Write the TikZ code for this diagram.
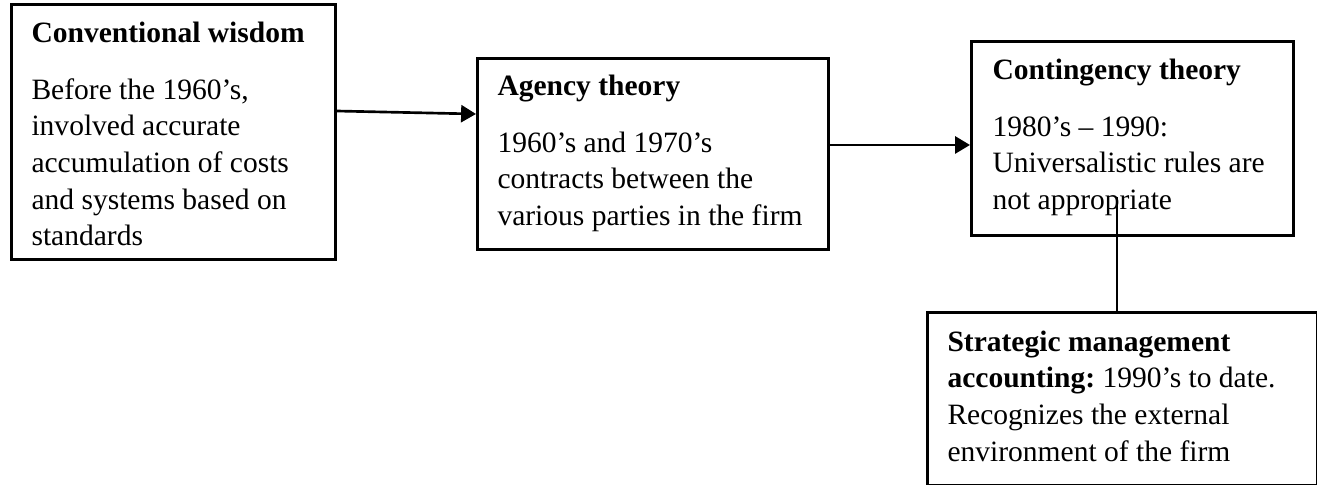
\documentclass[tikz,border=0pt]{standalone}
\usepackage{fontspec}
\setmainfont{Liberation Serif}
\usetikzlibrary{arrows.meta,positioning,calc}
\frenchspacing

\begin{document}
\begin{tikzpicture}[
    x=0.376pt, y=-0.376pt,
    box/.style={rectangle, draw=black, line width=1pt, anchor=north west, inner sep=0pt},
    txt/.style={anchor=north west, align=left, inner sep=0pt, font=\fontsize{11.1}{13.8}\selectfont},
    arrow/.style={-{Triangle[length=5.6pt,width=6.4pt]}, line width=1pt},
    link/.style={line width=1pt}
]
\useasboundingbox (0,0) rectangle (1317,485);

% Boxes
\node [box, minimum width=324*0.376pt, minimum height=255*0.376pt] (conv) at (10,3) {};
\node [box, minimum width=351*0.376pt, minimum height=191*0.376pt] (agency) at (476,57) {};
\node [box, minimum width=322*0.376pt, minimum height=194*0.376pt] (contin) at (970,40) {};
\node [box, minimum width=390*0.376pt, minimum height=173*0.376pt] (strat) at (926,311) {};

% Texts
\node [txt] (convtxt) at ($(conv.north west)+(21,18)$) {\textbf{Conventional wisdom}\\[7.7pt]
    Before the 1960's,\\ involved accurate\\ accumulation of costs\\ and systems based on\\ standards};
\node [txt] (agencytxt) at ($(agency.north west)+(21,17)$) {\textbf{Agency theory}\\[7.7pt]
    1960's and 1970's\\ contracts between the\\ various parties in the firm};
\node [txt] (contintxt) at ($(contin.north west)+(22,18)$) {\textbf{Contingency theory}\\[7.7pt]
    1980's -- 1990:\\ Universalistic rules are\\ not appropriate};
\node [txt] (strattxt) at ($(strat.north west)+(21,19)$) {\textbf{Strategic management}\\
    \textbf{accounting:} 1990's to date.\\ Recognizes the external\\ environment of the firm};

% Connectors
\draw [arrow] ($(conv.north east)+(0,108)$) -- ($(agency.north west)+(0,57)$);
\draw [arrow] ($(agency.north east)+(0,88)$) -- ($(contin.north west)+(0,105)$);
\draw [link] ($(contin.north west)+(147,157)$) -- ($(strat.north west)+(191,0)$);

\end{tikzpicture}
\end{document}
